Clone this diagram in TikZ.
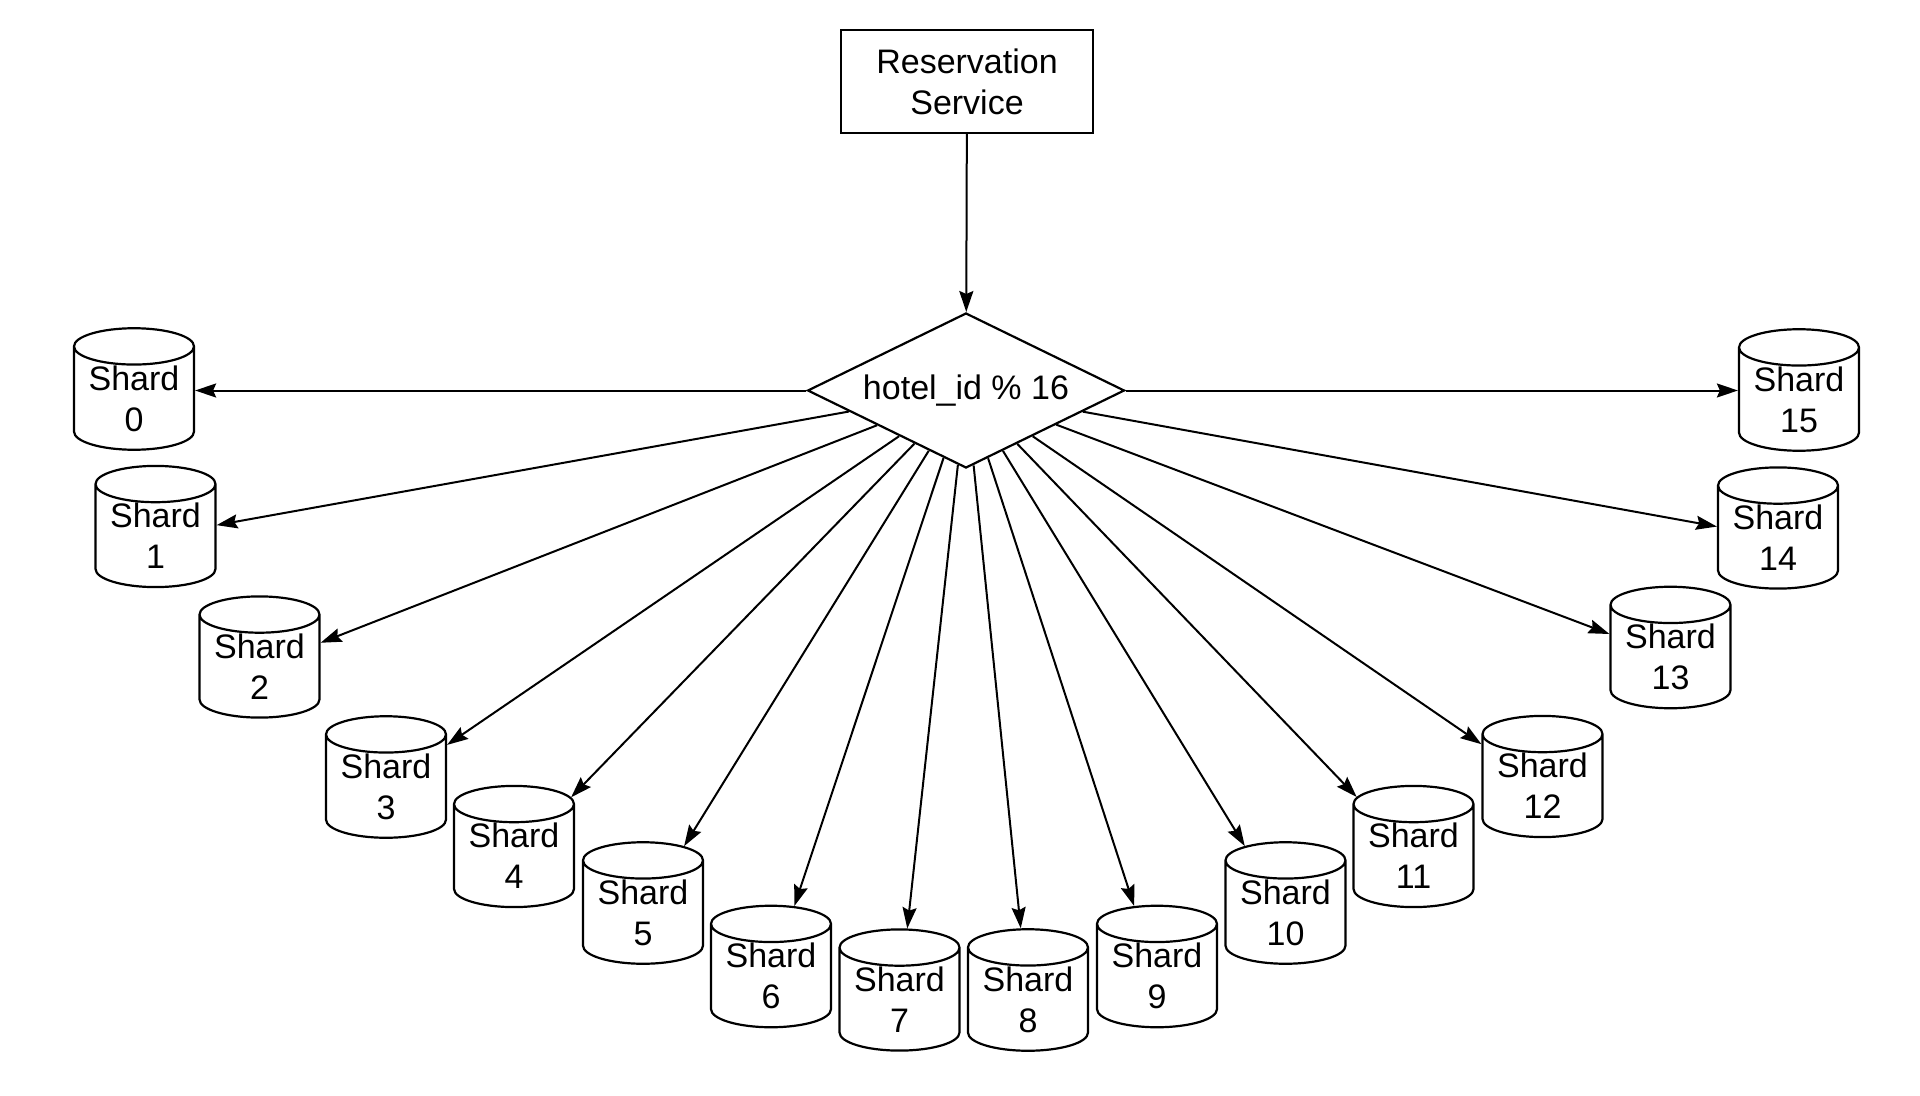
\documentclass[tikz,border=0pt]{standalone}
\usepackage{fontspec}
\setmainfont{Liberation Sans}
\usepackage{xcolor}
\usepackage{tikz}
\usetikzlibrary{positioning,arrows.meta,shapes.geometric}
\tikzset{
  node-box/.style={draw=black,line width=1.1pt,minimum width=126pt,
    minimum height=51.5pt,align=center,inner sep=0pt},
  node-decision/.style={draw=black,line width=1.1pt,diamond,aspect=2,
    minimum width=158.5pt,minimum height=77.5pt,inner sep=0pt},
  node-shard/.style={draw=black,line width=1.1pt,cylinder,
    shape border rotate=90,aspect=0.4,minimum width=60pt,
    minimum height=59.5pt,inner sep=0pt,align=center,anchor=shape center},
  arrow/.style={-{Stealth[length=10.5pt,width=7pt,inset=1.5pt]},
    line width=1pt,draw=black},
}

\begin{document}
\begin{tikzpicture}[x=0.5pt,y=-0.5pt,
    font=\fontsize{17}{20.5}\selectfont]
  \useasboundingbox (0,0) rectangle (1920,1096);
  \node[node-box] (svc) at (967,81.5) {Reservation\\Service};
  \node[node-decision] (hash) at (966,390.5) {hotel\_id \% 16};
  \draw[arrow] (svc) -- (hash);
  % shards laid out on a fan below the decision node
  \foreach \i/\x/\y in {0/134/389,1/155.5/526.5,2/259.5/657,3/386/777,
      4/514/846.5,5/643/903,6/771/966.5,7/899.5/990,8/1028/990,
      9/1157/966.5,10/1285.5/903,11/1413.5/846.5,12/1542.5/776.5,
      13/1670.5/647.5,14/1778/528,15/1799/390}
    \node[node-shard] (s\i) at (\x,\y) {Shard\\\i};
  \draw[arrow] (hash.west) -- (hash.west -| s0.east);
  \draw[arrow] (hash.east) -- (hash.east -| s15.west);
  \foreach \i in {1,...,14}
    \draw[arrow] (hash) -- (s\i);
\end{tikzpicture}
\end{document}
